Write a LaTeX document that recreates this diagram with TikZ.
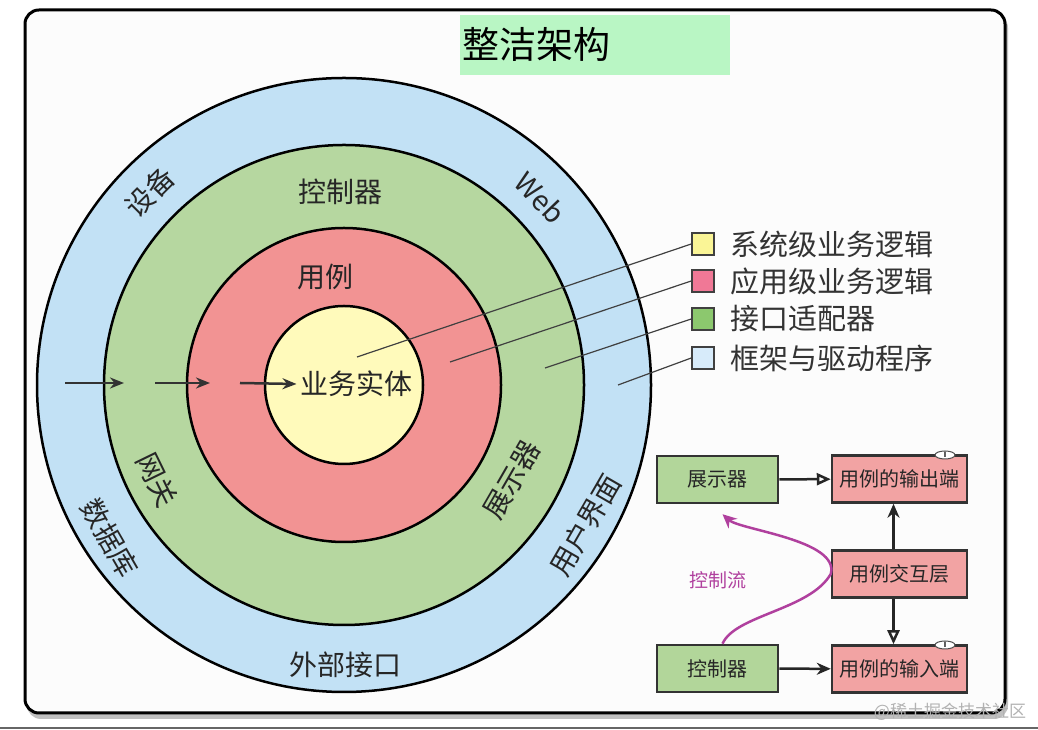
\documentclass[tikz,border=0pt]{standalone}
\usepackage{fontspec}
\setmainfont{Noto Sans CJK SC}
\usetikzlibrary{arrows.meta,positioning,shapes.geometric}

\definecolor{ringblue}{HTML}{C2E1F5}
\definecolor{ringgreen}{HTML}{B6D7A0}
\definecolor{ringred}{HTML}{F29393}
\definecolor{ringyellow}{HTML}{FFFABB}
\definecolor{titlegreen}{HTML}{B9F6C4}
\definecolor{boxgreen}{HTML}{B2D69A}
\definecolor{boxred}{HTML}{F2A3A3}
\definecolor{flowpurple}{HTML}{B0409E}
\definecolor{sqyellow}{HTML}{FAF596}
\definecolor{sqpink}{HTML}{F07896}
\definecolor{sqgreen}{HTML}{8CC86E}
\definecolor{sqblue}{HTML}{D7EBFA}

\begin{document}
\begin{tikzpicture}[x=1pt, y=1pt,
    lbl/.style={font=\fontsize{28}{30}\selectfont, text=black!85},
    legsq/.style={draw=black!75, line width=1.5pt, minimum size=22pt, inner sep=0pt},
    legtxt/.style={font=\fontsize{29}{32}\selectfont, text=black!80},
    leader/.style={black!75, line width=1.2pt},
    inarrow/.style={black!80, line width=2.5pt, -{Stealth[length=14pt, width=11pt]}},
    panelbox/.style={draw=black!80, line width=2.5pt, minimum height=47pt, font=\fontsize{20}{22}\selectfont, text=black!85},
    uses/.style={black!85, line width=2.5pt, -{Stealth[length=14pt, width=12pt]}},
    realize/.style={black!85, line width=2.5pt, -{Triangle[open, length=14pt, width=12pt]}},
    ifmark/.style={ellipse, fill=white, draw=black!70, line width=1pt, minimum width=20pt, minimum height=8pt,
                   inner sep=0pt, font=\fontsize{7}{7}\selectfont\bfseries},
    flow/.style={flowpurple, line width=2.5pt, -{Stealth[length=14pt, width=13pt]}}]
    % 画布与外框
    \fill[white] (0,0) rectangle (1038,730);
    \useasboundingbox (0,0) rectangle (1038,730);
    \draw[black!60, line width=2pt] (0,1.5) -- (1038,1.5);
    \fill[black!25, rounded corners=14pt] (27,11) rectangle (1008,716);
    \draw[line width=3pt, rounded corners=14pt, fill=black!1] (25,17) rectangle (1005,720);
    % 标题
    \node[fill=titlegreen, text width=266pt, minimum height=60pt, inner xsep=2pt, anchor=south west,
          font=\fontsize{37}{40}\selectfont] (title) at (460,655) {整洁架构};
    % 同心圆
    \coordinate (c) at (344,345);
    \draw[fill=ringblue, line width=2.5pt] (c) circle (307);
    \draw[fill=ringgreen, line width=2.5pt] (c) circle (240);
    \draw[fill=ringred, line width=2.5pt] (c) circle (157);
    \draw[fill=ringyellow, line width=2.5pt] (c) circle (79);
    % 圆环文字
    \node[lbl] (entity) at (356,346) {业务实体};
    \node[lbl] (usecase) at (325,453) {用例};
    \node[lbl] (ctrlring) at (340,538) {控制器};
    \node[lbl, rotate=45] (device) at (150,538) {设备};
    \node[lbl, rotate=-46] (web) at (540,532) {Web};
    \node[lbl, rotate=-64] (gateway) at (157,250) {网关};
    \node[lbl, rotate=-60] (db) at (110,192) {数据库};
    \node[lbl, rotate=60] (presring) at (512,250) {展示器};
    \node[lbl, rotate=60] (ui) at (585,205) {用户界面};
    \node[lbl] (extif) at (345,65) {外部接口};
    % 依赖方向箭头
    \foreach \a/\b in {65/124, 155/210}
        \draw[inarrow] (\a,347) -- (\b,347);
    \coordinate (arrstart) at (240,347);
    \draw[inarrow] (arrstart) -- (entity.west);
    % 图例
    \node[legsq, fill=sqyellow] (sq1) at (703,486) {};
    \node[legsq, fill=sqpink] (sq2) at (703,449) {};
    \node[legsq, fill=sqgreen] (sq3) at (703,411) {};
    \node[legsq, fill=sqblue] (sq4) at (703,372) {};
    \node[legtxt, right=12pt of sq1] (leg1) {系统级业务逻辑};
    \node[legtxt, right=12pt of sq2] (leg2) {应用级业务逻辑};
    \node[legtxt, right=12pt of sq3] (leg3) {接口适配器};
    \node[legtxt, right=12pt of sq4] (leg4) {框架与驱动程序};
    % 引线
    \coordinate (p1) at (357,373);
    \coordinate (p2) at (450,368);
    \coordinate (p3) at (545,362);
    \coordinate (p4) at (618,345);
    \draw[leader] (p1) -- (sq1.west);
    \draw[leader] (p2) -- (sq2.west);
    \draw[leader] (p3) -- (sq3.west);
    \draw[leader] (p4) -- (sq4.west);
    % 右下角：控制流示意
    \node[panelbox, fill=boxgreen, minimum width=121pt] (pres) at (717.5,250.5) {展示器};
    \node[panelbox, fill=boxred, minimum width=135pt] (outp) at (899.5,251) {用例的输出端};
    \node[panelbox, fill=boxred, minimum width=135pt] (inter) at (899.5,156) {用例交互层};
    \node[panelbox, fill=boxgreen, minimum width=121pt] (ctrl) at (717.5,61.5) {控制器};
    \node[panelbox, fill=boxred, minimum width=135pt] (inp) at (899.5,61) {用例的输入端};
    \node[ifmark] (outpI) at (945,275) {I};
    \node[ifmark] (inpI) at (945,85) {I};
    \draw[realize] (pres) -- (outp);
    \draw[uses] (ctrl) -- (inp);
    \draw[uses] ([xshift=-6pt]inter.north) -- ([xshift=-6pt]outp.south);
    \draw[realize] ([xshift=-6pt]inter.south) -- ([xshift=-6pt]inp.north);
    \draw[flow] ([xshift=5pt]ctrl.north) .. controls (735,115) and (810,120) .. (inter.west)
        .. controls (840,190) and (740,200) .. ([shift={(5pt,-10pt)}]pres.south);
    \node[font=\fontsize{19}{20}\selectfont, text=flowpurple] (flowlbl) at (718,150) {控制流};
    % 水印
    \node[font=\fontsize{17}{18}\selectfont, text=black!30] (wm) at (950,18) {@稀土掘金技术社区};
\end{tikzpicture}
\end{document}
